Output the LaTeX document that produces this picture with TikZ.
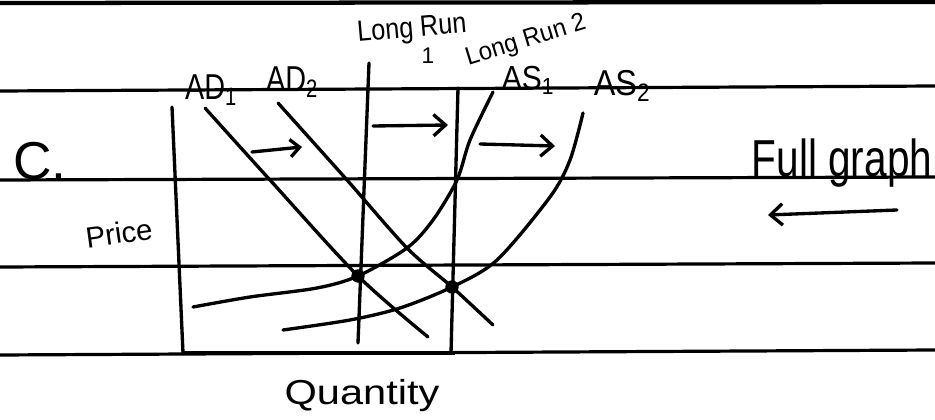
\documentclass[tikz,border=0pt]{standalone}
\usepackage{fontspec}
\setmainfont{Liberation Sans}
\usetikzlibrary{arrows.meta}
\begin{document}
\begin{tikzpicture}[x=0.75pt,y=-0.75pt,
  rule/.style={line width=2.4pt},
  curve/.style={line width=2.5pt, line cap=round, line join=round},
  shift arrow/.style={line width=2.5pt, line cap=round, -{Straight Barb[length=9pt,width=16pt,line width=2.5pt]}},
  lbl/.style={inner sep=0pt, text=black},
  dot/.style={circle, fill=black, inner sep=0pt, minimum size=10pt}]
\useasboundingbox (0,0) rectangle (935,420);
\fill[white] (0,0) rectangle (935,420);
% ruled lines
\coordinate (r0a) at (0,3);   \coordinate (r0b) at (935,2);
\coordinate (r1a) at (0,91);  \coordinate (r1b) at (935,86);
\coordinate (r2a) at (0,180); \coordinate (r2b) at (935,177);
\coordinate (r3a) at (0,267); \coordinate (r3b) at (935,263);
\coordinate (r4a) at (0,355); \coordinate (r4b) at (935,350);
\draw[line width=3.2pt] (r0a) -- (r0b);
\draw[rule] (r1a) -- (r1b);
\draw[rule] (r2a) -- (r2b);
\draw[rule] (r3a) -- (r3b);
\draw[rule] (r4a) -- (r4b);
% axes
\coordinate (ytop) at (172,107);
\coordinate (orig) at (183,353);
\coordinate (xend) at (455,353);
\draw[curve] (ytop) -- (orig);
\draw[line width=3.4pt] (orig) -- (xend);
% long run verticals
\coordinate (lr1t) at (369,63);  \coordinate (lr1b) at (358,343);
\coordinate (lr2t) at (458,88);  \coordinate (lr2b) at (451,353);
\draw[curve] (lr1t) -- (lr1b);
\draw[curve] (lr2t) -- (lr2b);
% AD curves
\draw[curve] plot[smooth] coordinates {(205,108) (270,180) (358,276) (428,337)};
\draw[curve] plot[smooth] coordinates {(278,103) (347,180) (407,248) (452,287) (493,325)};
% AS curves
\draw[curve] plot[smooth] coordinates {(193,307) (250,297) (317,288) (358,276) (407,248) (433,220) (457,180) (470,140) (493,92)};
\draw[curve] plot[smooth] coordinates {(283,330) (350,320) (400,308) (452,287) (497,260) (550,197) (570,160) (583,113)};
% equilibrium dots
\node[dot] (e1) at (358,276) {};
\node[dot] (e2) at (452,287) {};
% shift arrows
\coordinate (a1s) at (252,152); \coordinate (a1e) at (302,147);
\coordinate (a2s) at (373,126); \coordinate (a2e) at (448,125);
\coordinate (a3s) at (480,144); \coordinate (a3e) at (555,146);
\coordinate (a4s) at (897,210); \coordinate (a4e) at (768,215);
\draw[line width=2.5pt, line cap=round, -{Straight Barb[length=7pt,width=13pt,line width=2.5pt]}] (a1s) -- (a1e);
\draw[shift arrow] (a2s) -- (a2e);
\draw[shift arrow] (a3s) -- (a3e);
\draw[shift arrow] (a4s) -- (a4e);
% labels
\node[lbl, font=\fontsize{40}{40}\selectfont] (c) at (40,161) {C.};
\node[lbl, font=\fontsize{39}{39}\selectfont] (full) at (842,163) {\scalebox{0.78}[1]{Full graph}};
\node[lbl, font=\fontsize{26}{26}\selectfont] (qty) at (362,396) {\scalebox{1.2}[1]{Quantity}};
\node[lbl, font=\fontsize{22}{22}\selectfont, rotate=8] (price) at (119,233) {Price};
\node[lbl, font=\fontsize{27}{27}\selectfont] (ad1) at (211,90) {\scalebox{0.8}[1]{AD\textsubscript{1}}};
\node[lbl, font=\fontsize{27}{27}\selectfont] (ad2) at (292,82) {\scalebox{0.8}[1]{AD\textsubscript{2}}};
\node[lbl, font=\fontsize{25}{25}\selectfont] (as1) at (528,80) {\scalebox{0.9}[1]{AS\textsubscript{1}}};
\node[lbl, font=\fontsize{27}{27}\selectfont] (as2) at (622,86) {\scalebox{0.9}[1]{AS\textsubscript{2}}};
\node[lbl, font=\fontsize{22}{22}\selectfont, rotate=5] (lr1) at (412,30) {\scalebox{0.86}[1]{Long Run}};
\node[lbl, font=\fontsize{17}{17}\selectfont] (lr1n) at (428,56) {1};
\node[lbl, font=\fontsize{19}{19}\selectfont, rotate=17] (lr2) at (526,41) {\scalebox{0.95}[1]{Long Run 2}};
\end{tikzpicture}
\end{document}
